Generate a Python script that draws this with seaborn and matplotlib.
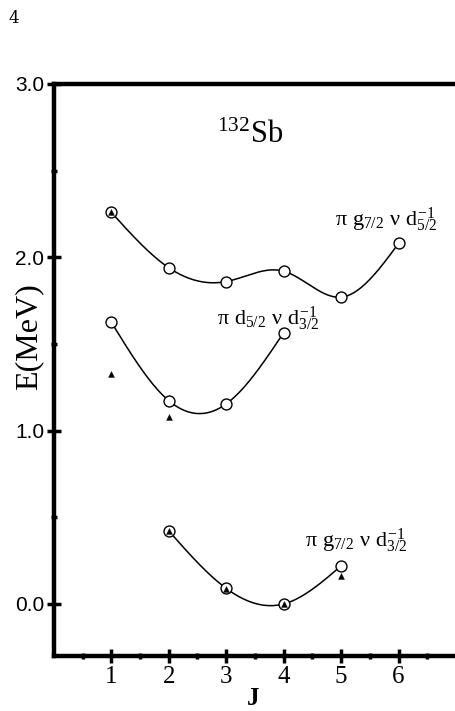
import numpy as np
import pandas as pd
import matplotlib
matplotlib.use("Agg")
import matplotlib.pyplot as plt
import seaborn as sns

# level energies (MeV)
J_top = [1, 2, 3, 4, 5, 6]
E_top = [2.26, 1.94, 1.86, 1.92, 1.77, 2.08]
J_mid = [1, 2, 3, 4]
E_mid = [1.626, 1.173, 1.154, 1.565]
J_low = [2, 3, 4, 5]
E_low = [0.422, 0.09, 0.0, 0.22]

# experimental points (triangles)
J_exp = [1, 1, 2, 2, 3, 4, 5]
E_exp = [2.26, 1.324, 1.08, 0.422, 0.087, 0.0, 0.16]

x_ticks = [1, 2, 3, 4, 5, 6]
y_ticks = [0.0, 1.0, 2.0, 3.0]


def natural_spline(x, y, n=200):
    x = np.asarray(x, float)
    y = np.asarray(y, float)
    m = len(x)
    h = np.diff(x)
    A = np.zeros((m, m))
    b = np.zeros(m)
    A[0, 0] = A[-1, -1] = 1
    for i in range(1, m - 1):
        A[i, i - 1] = h[i - 1]
        A[i, i] = 2 * (h[i - 1] + h[i])
        A[i, i + 1] = h[i]
        b[i] = 3 * ((y[i + 1] - y[i]) / h[i] - (y[i] - y[i - 1]) / h[i - 1])
    c = np.linalg.solve(A, b)
    xs = np.linspace(x[0], x[-1], n)
    ys = np.empty_like(xs)
    for k, t in enumerate(xs):
        i = min(np.searchsorted(x, t, side="right") - 1, m - 2)
        bi = (y[i + 1] - y[i]) / h[i] - h[i] * (2 * c[i] + c[i + 1]) / 3
        di = (c[i + 1] - c[i]) / (3 * h[i])
        dx = t - x[i]
        ys[k] = y[i] + bi * dx + c[i] * dx ** 2 + di * dx ** 3
    return xs, ys


sns.set_style("ticks", {"axes.edgecolor": "black", "xtick.color": "black",
                        "ytick.color": "black", "text.color": "black",
                        "axes.labelcolor": "black"})
plt.rcParams["font.family"] = ["Liberation Serif", "DejaVu Serif"]
plt.rcParams["mathtext.fontset"] = "custom"
plt.rcParams["mathtext.rm"] = "Liberation Serif"
plt.rcParams["mathtext.it"] = "Liberation Serif"
plt.rcParams["mathtext.bf"] = "Liberation Serif:bold"

fig = plt.figure(figsize=(4.56, 7.11), dpi=100)
ax = fig.add_axes([0.118, 0.0774, 0.882, 0.8045])

for jj, ee in [(J_top, E_top), (J_mid, E_mid), (J_low, E_low)]:
    xs, ys = natural_spline(jj, ee)
    sns.lineplot(x=xs, y=ys, ax=ax, color="black", lw=1.1, sort=False)

J_all = J_top + J_mid + J_low
E_all = E_top + E_mid + E_low
sns.scatterplot(x=J_all, y=E_all, ax=ax, marker="o", s=62, facecolor="white",
                edgecolor="black", linewidth=1.0, zorder=3)
sns.scatterplot(x=J_exp, y=E_exp, ax=ax, marker="^", s=18, color="black",
                edgecolor="black", linewidth=0.3, zorder=4)

ax.set_xlim(0, 7)
ax.set_ylim(-0.3, 3.0)
ax.set_xticks(x_ticks)
ax.set_xticks(np.arange(0.5, 7, 1.0), minor=True)
ax.set_yticks(y_ticks)
ax.set_yticks([0.5, 1.5, 2.5], minor=True)
ax.set_xticklabels([str(v) for v in x_ticks], fontsize=18)
ax.set_yticklabels([f"{v:.1f}" for v in y_ticks], fontsize=15,
                   family="Liberation Sans")
ax.tick_params(axis="both", which="major", direction="inout", length=10,
               width=2.5, pad=2)
ax.tick_params(axis="both", which="minor", direction="inout", length=5,
               width=2.5)

for s in ["left", "bottom", "top"]:
    ax.spines[s].set_linewidth(3.2)
ax.spines["right"].set_visible(False)

ax.set_xlabel("J", fontsize=18, fontweight="bold")
ax.xaxis.set_label_coords(0.495, -0.054)
ax.set_ylabel("E(MeV)", fontsize=23)
ax.yaxis.set_label_coords(-0.026, 0.558)

ax.text(2.84, 2.66, r"$^{132}$Sb", fontsize=22, ha="left", va="baseline")
ax.text(4.9, 2.18, r"$\pi\ g_{7/2}\ \nu\ d_{5/2}^{-1}$", fontsize=16,
        ha="left", va="baseline")
ax.text(2.84, 1.61, r"$\pi\ d_{5/2}\ \nu\ d_{3/2}^{-1}$", fontsize=16,
        ha="left", va="baseline")
ax.text(4.38, 0.33, r"$\pi\ g_{7/2}\ \nu\ d_{3/2}^{-1}$", fontsize=16,
        ha="left", va="baseline")

fig.text(0.018, 0.968, "4", fontsize=12, family="DejaVu Serif")

fig.savefig("out.png", dpi=100)
